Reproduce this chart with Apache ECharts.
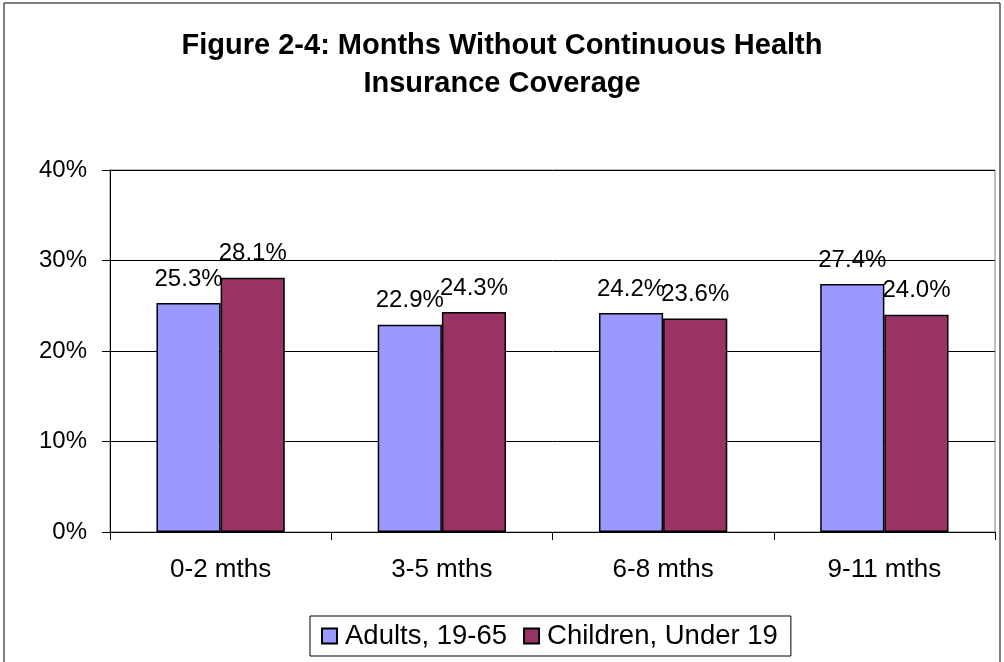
<!DOCTYPE html>
<html>
<head>
<meta charset="utf-8">
<script src="https://cdn.jsdelivr.net/npm/echarts@6/dist/echarts.min.js"></script>
<style>
  html, body { margin: 0; padding: 0; background: #fff; }
  #chart { width: 1004px; height: 662px; }
</style>
</head>
<body>
<div id="chart"></div>
<script>
// data
const categories = ['0-2 mths', '3-5 mths', '6-8 mths', '9-11 mths'];
const adults = [25.3, 22.9, 24.2, 27.4];
const children = [28.1, 24.3, 23.6, 24.0];
const seriesNames = ['Adults, 19-65', 'Children, Under 19'];

const font = 'Liberation Sans, Arial, sans-serif';

let chart = echarts.init(document.getElementById('chart'));

function barLabel() {
  return {
    show: true,
    position: 'top',
    distance: 12,
    color: '#000',
    fontSize: 24,
    fontFamily: font,
    formatter: p => p.value.toFixed(1) + '%'
  };
}

chart.setOption({
  animation: false,
  backgroundColor: '#fff',
  graphic: [{
    type: 'rect',
    shape: { x: 4, y: 3, width: 996, height: 720 },
    style: { fill: 'none', stroke: '#000', lineWidth: 1 },
    silent: true
  }],
  title: {
    text: 'Figure 2-4: Months Without Continuous Health\nInsurance Coverage',
    left: 'center',
    top: 22,
    padding: [5, 5, 5, 25],
    textStyle: {
      fontFamily: font,
      fontWeight: 'bold',
      fontSize: 29,
      lineHeight: 38,
      color: '#000'
    }
  },
  legend: {
    data: seriesNames,
    left: 310,
    top: 616,
    padding: [6, 13, 6, 11],
    itemWidth: 15,
    itemHeight: 15,
    itemGap: 16,
    icon: 'rect',
    borderColor: '#000',
    borderWidth: 1,
    borderRadius: 0,
    textStyle: { fontFamily: font, fontSize: 27.5, color: '#000', padding: [0, 0, 0, 3] }
  },
  grid: {
    left: 110,
    right: 9,
    top: 170,
    bottom: 130,
    show: true,
    borderColor: '#808080',
    borderWidth: 1,
    backgroundColor: '#fff'
  },
  xAxis: {
    type: 'category',
    data: categories,
    axisLine: { lineStyle: { color: '#000' } },
    axisTick: { show: true, length: 8, lineStyle: { color: '#000' } },
    axisLabel: { fontFamily: font, fontSize: 26, color: '#000', margin: 25 }
  },
  yAxis: {
    type: 'value',
    min: 0,
    max: 40,
    interval: 10,
    axisLine: { show: true, lineStyle: { color: '#000' } },
    axisTick: { show: true, length: 8, lineStyle: { color: '#000' } },
    axisLabel: {
      fontFamily: font, fontSize: 24, color: '#000', margin: 23,
      formatter: '{value}%'
    },
    splitLine: { lineStyle: { color: '#000', width: 1 } }
  },
  series: [
    {
      name: seriesNames[0],
      type: 'bar',
      data: adults,
      barGap: '0%',
      barCategoryGap: '42%',
      itemStyle: { color: '#9999FF', borderColor: '#000', borderWidth: 1.5 },
      label: barLabel()
    },
    {
      name: seriesNames[1],
      type: 'bar',
      data: children,
      itemStyle: { color: '#993366', borderColor: '#000', borderWidth: 1.5 },
      label: barLabel()
    }
  ]
});
</script>
</body>
</html>
